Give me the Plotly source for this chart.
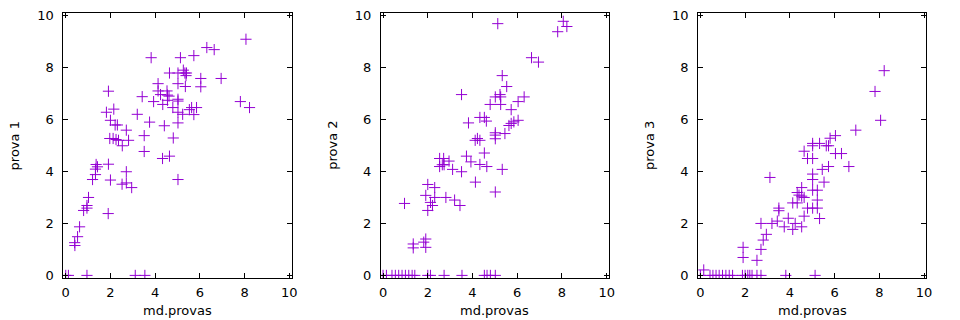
import plotly.graph_objects as go

# panel 1: md.provas vs prova 1
x1 = [0, 0.12, 0.95, 3.11, 3.54, 0.4, 0.41, 0.53, 0.62, 0.8, 0.95, 0.95, 1.02, 1.2, 1.33,
      1.33, 1.42, 1.36, 1.9, 1.91, 2.0, 1.82, 1.91, 2.0, 1.97, 2.12, 2.15, 2.21, 2.31, 2.25,
      2.36, 2.53, 2.71, 2.81, 2.71, 2.52, 2.71, 2.95, 3.2, 3.42, 3.51, 3.51, 3.75, 3.82, 3.93,
      4.13, 4.13, 4.24, 4.34, 4.41, 4.33, 4.53, 4.55, 4.62, 4.55, 4.64, 4.64, 4.79, 4.81, 5.02,
      5.02, 5.02, 5.02, 5.02, 5.02, 5.02, 5.13, 5.23, 5.26, 5.33, 5.38, 5.4, 5.35, 5.53, 5.63,
      5.85, 5.73, 5.73, 6.04, 6.04, 6.31, 6.64, 6.95, 7.81, 8.06, 8.22]
y1 = [0, 0, 0, 0, 0, 1.26, 1.15, 1.49, 1.87, 2.5, 2.59, 2.69, 3.0, 3.69, 3.88,
      4.09, 4.18, 4.27, 2.38, 4.28, 3.67, 6.28, 7.09, 5.97, 5.27, 5.27, 6.4, 5.79, 5.79, 5.23,
      5.2, 4.99, 5.59, 5.2, 3.99, 3.51, 3.56, 3.38, 6.2, 6.88, 5.38, 4.77, 5.9, 8.38, 6.69,
      7.38, 7.1, 6.96, 6.58, 5.76, 4.5, 7.1, 6.94, 6.9, 6.74, 7.79, 4.59, 6.46, 5.29, 7.79,
      7.38, 6.78, 6.71, 6.28, 5.87, 3.69, 8.38, 6.2, 7.9, 7.79, 7.69, 7.79, 7.27, 6.38, 6.46,
      6.46, 6.19, 8.46, 7.58, 7.26, 8.77, 8.69, 7.58, 6.69, 9.09, 6.46]

# panel 2: md.provas vs prova 2
x2 = [0.0, 0.15, 0.4, 0.55, 0.7, 0.85, 1.0, 1.15, 1.3, 1.42, 2.0, 2.12, 2.73, 3.53, 4.53,
      4.65, 4.8, 5.02,
      0.96, 1.35, 1.35, 1.82, 1.91, 1.91, 1.91, 2.0, 2.0, 2.12, 2.21, 2.31, 2.31, 2.53, 2.71,
      2.53, 2.65, 2.73, 2.95, 2.81, 3.11, 3.2, 3.44, 3.51, 3.51, 3.73, 3.82, 3.93, 4.12, 4.22,
      4.33, 4.13, 4.33, 4.33, 4.53, 4.62, 4.53, 4.64, 4.79, 5.02, 5.02, 5.02, 5.02, 5.02, 5.13,
      5.23, 5.26, 5.26, 5.33, 5.33, 5.45, 5.53, 5.63, 5.73, 5.85, 5.73, 6.04, 6.04, 6.31, 6.64,
      6.95, 7.81, 8.06, 8.22]
y2 = [0, 0, 0, 0, 0, 0, 0, 0, 0, 0, 0, 0, 0, 0, 0,
      0, 0, 0,
      2.77, 1.21, 1.06, 1.28, 1.4, 1.08, 3.08, 3.5, 2.5, 2.81, 2.69, 3.38, 3.0, 4.5, 4.5,
      4.19, 4.26, 4.26, 4.4, 3.0, 4.08, 2.9, 2.69, 6.96, 3.99, 4.59, 5.87, 4.37, 5.2, 5.27,
      5.2, 3.59, 6.08, 4.27, 6.08, 5.94, 4.71, 4.19, 6.58, 6.87, 5.49, 5.4, 5.26, 3.21, 9.69,
      6.96, 6.87, 6.58, 7.69, 4.08, 5.46, 7.27, 5.77, 5.85, 5.91, 6.38, 6.69, 5.97, 6.87, 8.38,
      8.21, 9.38, 9.78, 9.58]

# panel 3: md.provas vs prova 3
x3 = [0, 0.43, 0.56, 0.7, 0.84, 0.99, 1.14, 1.29, 1.44, 1.88, 2.0, 2.12, 2.21, 2.31, 2.53,
      2.71, 3.82, 5.13,
      0.15, 1.91, 1.91, 2.53, 2.71, 2.71, 2.81, 2.95, 3.11, 3.2, 3.44, 3.51, 3.51, 3.75, 3.93,
      4.13, 4.13, 4.24, 4.33, 4.33, 4.41, 4.53, 4.53, 4.64, 4.53, 4.64, 4.64, 4.79, 5.02, 4.79,
      5.02, 5.23, 5.02, 5.02, 5.02, 5.02, 5.02, 5.23, 5.23, 5.33, 5.33, 5.45, 5.53, 5.63, 5.73,
      5.8, 5.73, 6.04, 6.04, 6.31, 6.64, 6.95, 7.81, 8.06, 8.22]
y3 = [0, 0, 0, 0, 0, 0, 0, 0, 0, 0, 0, 0, 0, 0, 0,
      0, 0, 0,
      0.21, 1.08, 0.69, 0.58, 1.0, 2.0, 1.36, 1.58, 3.77, 2.0, 2.09, 2.59, 2.49, 1.87, 2.2,
      1.77, 2.79, 2.0, 2.79, 3.19, 3.09, 3.38, 3.05, 3.0, 1.87, 2.28, 4.78, 4.5, 4.5, 2.59,
      2.59, 2.59, 5.08, 4.99, 3.9, 3.69, 3.28, 3.28, 2.9, 2.19, 5.08, 4.08, 3.59, 4.99, 4.99,
      5.28, 4.19, 5.38, 4.69, 4.69, 4.19, 5.59, 7.08, 5.97, 7.88]

y_titles = ["prova 1", "prova 2", "prova 3"]
x_title = "md.provas"
tick_vals = [0, 2, 4, 6, 8, 10]

COLOR = "#9400D3"
FONT = "DejaVu Sans"
W, H = 960, 320
ML, MR, MT, MB = 0, 0, 13, 42
frames = [(62, 292), (382, 612), (702, 932)]
PH = H - MT - MB

fig = go.Figure()
panels = [(x1, y1), (x2, y2), (x3, y3)]
for i, (xs, ys) in enumerate(panels):
    sfx = "" if i == 0 else str(i + 1)
    fig.add_trace(go.Scatter(
        x=xs, y=ys, mode="markers", xaxis="x" + sfx, yaxis="y" + sfx,
        marker=dict(symbol="cross-thin", size=8, color=COLOR,
                    line=dict(color=COLOR, width=1)),
        showlegend=False, hoverinfo="x+y"))
    x0, x1p = frames[i]
    ax_common = dict(showgrid=False, zeroline=False, showline=True, linecolor="black",
                     linewidth=1, mirror="allticks", ticks="inside", ticklen=5,
                     tickcolor="black", tickwidth=1, tickvals=tick_vals,
                     tickfont=dict(family=FONT, size=13, color="black"),
                     range=[-0.1, 10.1])
    fig.layout["xaxis" + sfx] = dict(ax_common, domain=[x0 / W, x1p / W],
                                     anchor="y" + sfx, ticklabelstandoff=2)
    fig.layout["yaxis" + sfx] = dict(ax_common, domain=[0, 1], anchor="x" + sfx,
                                     ticklabelstandoff=6)
    fig.add_annotation(text=x_title, xref="paper", yref="paper",
                       x=(x0 + x1p) / 2 / W, y=-(310 - (H - MB)) / PH,
                       xanchor="center", yanchor="middle", showarrow=False,
                       font=dict(family=FONT, size=13, color="black"))
    fig.add_annotation(text=y_titles[i], xref="paper", yref="paper",
                       x=(x0 - 49) / W, y=0.5, textangle=-90,
                       xanchor="center", yanchor="middle", showarrow=False,
                       font=dict(family=FONT, size=13, color="black"))

fig.update_layout(width=W, height=H, margin=dict(l=ML, r=MR, t=MT, b=MB),
                  plot_bgcolor="white", paper_bgcolor="white",
                  font=dict(family=FONT, size=13, color="black"))
fig.write_html("out.html", config={"displayModeBar": False},
               post_script="document.body.style.margin='0';document.body.style.overflow='hidden';")
